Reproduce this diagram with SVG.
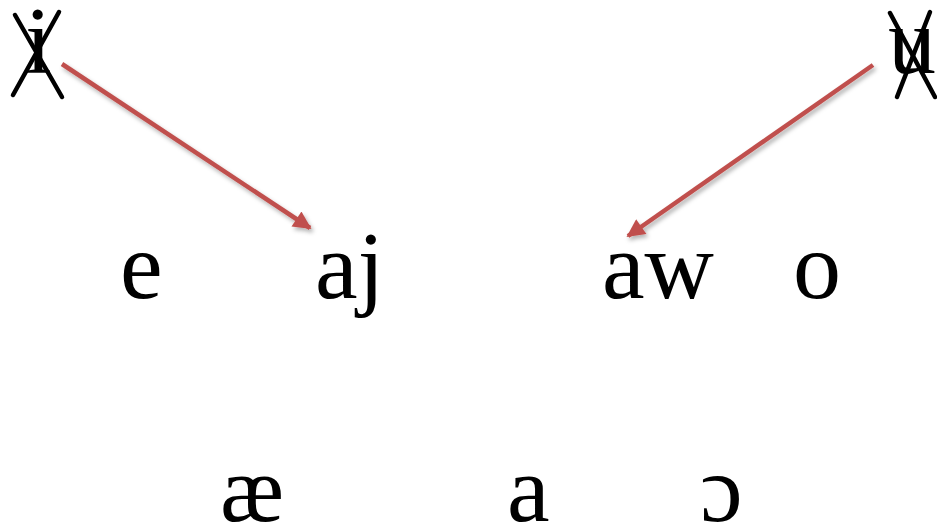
<svg xmlns="http://www.w3.org/2000/svg" width="937" height="527" viewBox="0 0 937 527">
<style>
.t{font-family:"Liberation Serif","Times New Roman",serif;font-size:96px;fill:#000}
.x{stroke:#000;stroke-width:4.5;stroke-linecap:round}
.arr{stroke:#C0504D;stroke-width:4.5;fill:none}
</style>
<defs>
<marker id="ah" viewBox="0 0 10 10" refX="9" refY="5" markerWidth="5" markerHeight="4" orient="auto" markerUnits="strokeWidth">
<path d="M0,0 L10,5 L0,10 Z" fill="#C0504D"/>
</marker>
<filter id="sh" x="-10%" y="-10%" width="130%" height="130%">
<feDropShadow dx="2" dy="3" stdDeviation="2" flood-color="#000" flood-opacity="0.3"/>
</filter>
</defs>
<g id="n-i">
<text class="t" x="25" y="73">i</text>
<line class="x" x1="15" y1="15" x2="62" y2="97"/>
<line class="x" x1="59" y1="12" x2="13" y2="95"/>
</g>
<g id="n-u">
<text class="t" x="888" y="73">u</text>
<line class="x" x1="890" y1="13" x2="935" y2="97"/>
<line class="x" x1="930" y1="12" x2="897" y2="97"/>
</g>
<g id="n-e"><text class="t" x="120" y="298">e</text></g>
<g id="n-aj"><text class="t" x="315" y="298">aj</text></g>
<g id="n-aw"><text class="t" x="602" y="298">aw</text></g>
<g id="n-o"><text class="t" x="793" y="298">o</text></g>
<g id="n-ae"><text class="t" x="220" y="521">æ</text></g>
<g id="n-a"><text class="t" x="507" y="521">a</text></g>
<g id="n-open-o"><text class="t" x="700" y="521">ɔ</text></g>
<g id="connectors" filter="url(#sh)">
<line class="arr" x1="62" y1="64" x2="310" y2="228" marker-end="url(#ah)"/>
<line class="arr" x1="873" y1="65" x2="628" y2="236" marker-end="url(#ah)"/>
</g>
</svg>
